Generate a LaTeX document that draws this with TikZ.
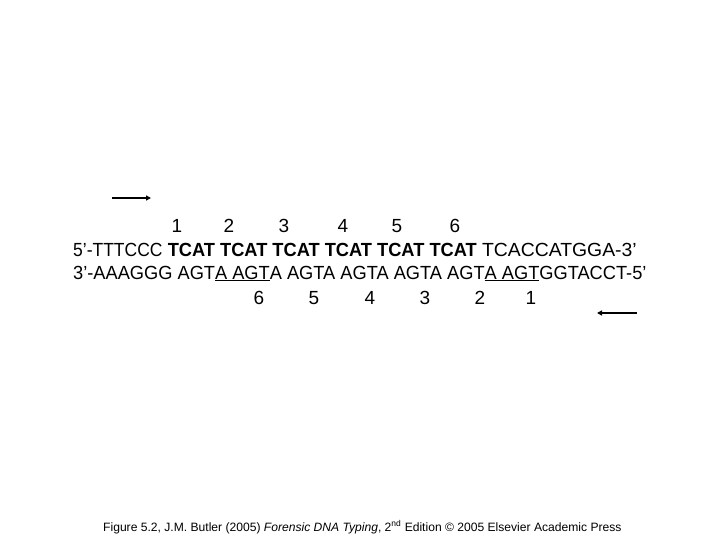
\documentclass[tikz,border=0pt]{standalone}
\usepackage{fontspec}
\setmainfont{Liberation Sans}
\usetikzlibrary{arrows.meta}

% squeeze a piece of sequence sideways
\newcommand{\seqx}[2]{\scalebox{#1}[1]{#2}}

\tikzset{
  seq/.style={anchor=base west, inner sep=0pt, font=\fontsize{19}{23}\selectfont},
  num/.style={anchor=base, inner sep=0pt, font=\fontsize{19}{23}\selectfont},
  primer/.style={line width=1.6pt, -{Triangle[length=5pt,width=5pt]}},
}

\begin{document}
\begin{tikzpicture}[x=1pt,y=-1pt]
\useasboundingbox (0,0) rectangle (720,540);

\coordinate (F1) at (112,198);
\coordinate (F2) at (151,198);
\coordinate (R1) at (637,313);
\coordinate (R2) at (597,313);

% upper strand
\node[seq] (top) at (73,256)
  {\seqx{0.92}{5’-TTTCCC} \seqx{0.96}{\textbf{TCAT TCAT TCAT TCAT TCAT TCAT}} \seqx{1.02}{TCACCATGGA-3’}};

% lower strand
\node[seq] (bot) at (73,279)
  {\seqx{0.96}{3’-AAAGGG AGT\underline{A AGT}A AGTA AGTA AGTA AGT\underline{A AGT}GGTACCT-5’}};

\node[num] (t1) at (177,233) {1};
\node[num] (t2) at (229,233) {2};
\node[num] (t3) at (284,233) {3};
\node[num] (t4) at (343,233) {4};
\node[num] (t5) at (397,233) {5};
\node[num] (t6) at (455,233) {6};

\node[num] (b6) at (259,304) {6};
\node[num] (b5) at (314,304) {5};
\node[num] (b4) at (370,304) {4};
\node[num] (b3) at (425,304) {3};
\node[num] (b2) at (480,304) {2};
\node[num] (b1) at (531,304) {1};

\draw[primer] (F1) -- (F2);
\draw[primer] (R1) -- (R2);

\node[anchor=base west, inner sep=0pt, font=\fontsize{12.1}{14}\selectfont] (cap) at (103,531)
  {Figure 5.2, J.M. Butler (2005) \textit{Forensic DNA Typing}, 2\textsuperscript{nd} Edition © 2005 Elsevier Academic Press};

\end{tikzpicture}
\end{document}
